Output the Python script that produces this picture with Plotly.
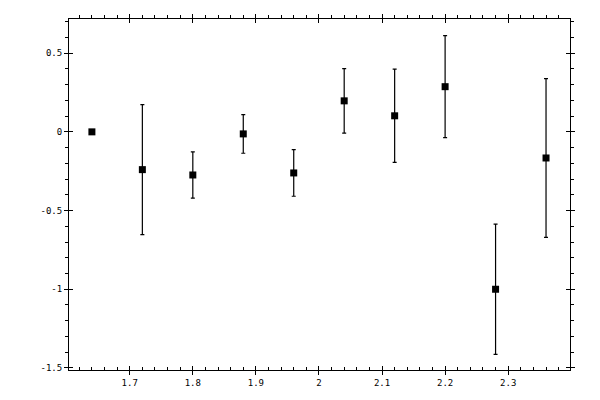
import plotly.graph_objects as go

x_vals = [1.64, 1.72, 1.80, 1.88, 1.96, 2.04, 2.12, 2.20, 2.28, 2.36]
y_vals = [0.0, -0.240, -0.274, -0.013, -0.261, 0.197, 0.102, 0.287, -1.0, -0.166]
y_err = [0.0, 0.413, 0.147, 0.123, 0.148, 0.205, 0.296, 0.324, 0.414, 0.504]

x_tickvals = [1.7, 1.8, 1.9, 2.0, 2.1, 2.2, 2.3]
x_ticktext = ["1.7", "1.8", "1.9", "2", "2.1", "2.2", "2.3"]
y_tickvals = [-1.5, -1.0, -0.5, 0.0, 0.5]
y_ticktext = ["-1.5", "-1", "-0.5", "0", "0.5"]

x_range = [1.6037, 2.398]
y_range = [-1.513, 0.717]

FONT = dict(family="DejaVu Sans Mono", size=9, color="black")

fig = go.Figure()
fig.add_trace(go.Scatter(
    x=x_vals, y=y_vals, mode="markers",
    marker=dict(symbol="square", size=7, color="black", line=dict(width=0)),
    error_y=dict(type="data", array=y_err, visible=True, color="black",
                 thickness=1.2, width=2),
    showlegend=False, hoverinfo="skip",
))
for i in (2, 3, 4):
    fig.add_trace(go.Scatter(x=[None], y=[None], xaxis=f"x{i}", yaxis=f"y{i}",
                             showlegend=False, hoverinfo="skip"))

common = dict(showgrid=False, zeroline=False, tickcolor="black", tickwidth=1,
              linecolor="black", linewidth=1, tickfont=FONT, automargin=False)

fig.update_layout(
    width=592, height=392,
    margin=dict(l=61, r=30, t=11, b=30),
    paper_bgcolor="white", plot_bgcolor="white",
    font=FONT,
    xaxis=dict(range=x_range, tickmode="array", tickvals=x_tickvals, ticktext=x_ticktext,
               ticks="outside", ticklen=4, showline=True, side="bottom", anchor="y",
               minor=dict(ticks="inside", ticklen=3, dtick=0.02, tick0=1.6,
                          tickcolor="black", tickwidth=1, showgrid=False),
               **common),
    xaxis2=dict(range=x_range, tickmode="array", tickvals=x_tickvals, ticks="inside",
                ticklen=4, showticklabels=False, showline=False, side="bottom",
                overlaying="x", anchor="y", **common),
    xaxis3=dict(range=x_range, tickmode="array", tickvals=x_tickvals, ticks="outside",
                ticklen=4, showticklabels=False, showline=True, side="top",
                overlaying="x", anchor="y",
                minor=dict(ticks="outside", ticklen=3, dtick=0.02, tick0=1.6,
                           tickcolor="black", tickwidth=1, showgrid=False),
                **common),
    xaxis4=dict(range=x_range, tickmode="array", tickvals=x_tickvals, ticks="inside",
                ticklen=4, showticklabels=False, showline=False, side="top",
                overlaying="x", anchor="y", **common),
    yaxis=dict(range=y_range, tickmode="array", tickvals=y_tickvals, ticktext=y_ticktext,
               ticks="outside", ticklen=4, showline=True, side="left", anchor="x",
               minor=dict(ticks="outside", ticklen=3, dtick=0.1, tick0=0,
                          tickcolor="black", tickwidth=1, showgrid=False),
               **common),
    yaxis2=dict(range=y_range, tickmode="array", tickvals=y_tickvals, ticks="inside",
                ticklen=4, showticklabels=False, showline=False, side="left",
                overlaying="y", anchor="x", **common),
    yaxis3=dict(range=y_range, tickmode="array", tickvals=y_tickvals, ticks="outside",
                ticklen=4, showticklabels=False, showline=True, side="right",
                overlaying="y", anchor="x",
                minor=dict(ticks="outside", ticklen=3, dtick=0.1, tick0=0,
                           tickcolor="black", tickwidth=1, showgrid=False),
                **common),
    yaxis4=dict(range=y_range, tickmode="array", tickvals=y_tickvals, ticks="inside",
                ticklen=4, showticklabels=False, showline=False, side="right",
                overlaying="y", anchor="x", **common),
)

fig.write_html("out.html")
